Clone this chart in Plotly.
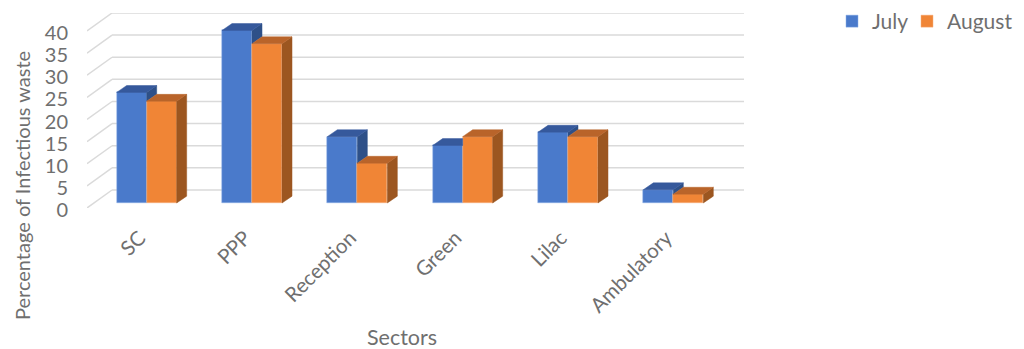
import plotly.graph_objects as go

# Infectious waste share per hospital sector, two months
sectors = ["SC", "PPP", "Reception", "Green", "Lilac", "Ambulatory"]
july = [25, 39, 15, 13, 16, 3]
august = [23, 36, 9, 15, 15, 2]
y_ticks = [0, 5, 10, 15, 20, 25, 30, 35, 40]

# Pseudo-3D projection, in axis units
WALL_DX, WALL_DY = 0.2375, 4.07    # full floor depth
BAR_DX, BAR_DY = 0.095, 1.55       # depth of one column
BAR_SHIFT_X, BAR_SHIFT_Y = 0.0665, 1.13  # columns sit a little inside the floor
BAR_W = 0.2848

GRID = "#DADADA"
TEXT = "#6F6F6F"
FONT = "Lato"
BLUE = {"front": "#4A7ACB", "side": "#2E5088", "top": "#36599C"}
ORANGE = {"front": "#F08536", "side": "#9C5620", "top": "#B9642A"}

WIDTH, HEIGHT = 1024, 349
M_L, M_R, M_T, M_B = 87, 280, 13, 141


def paper_x(px):
    return (px - M_L) / (WIDTH - M_L - M_R)


def paper_y(py):
    return (HEIGHT - M_B - py) / (HEIGHT - M_T - M_B)


def polygon(xs, ys, color):
    return go.Scatter(
        x=xs + xs[:1], y=ys + ys[:1], mode="lines", fill="toself",
        fillcolor=color, line=dict(color=color, width=0.5),
        hoverinfo="skip", showlegend=False,
    )


fig = go.Figure()

# Front faces
for name, values, colors, start, legend, edge in (
    ("July", july, BLUE, -BAR_W, "legend", "#8FB0E6"),
    ("August", august, ORANGE, 0.0, "legend2", "#F6B183"),
):
    fig.add_trace(go.Bar(
        name=name,
        x=[i + BAR_SHIFT_X for i in range(len(sectors))],
        y=values,
        base=[BAR_SHIFT_Y] * len(values),
        width=BAR_W,
        offset=start,
        legend=legend,
        showlegend=True,
        marker=dict(color=colors["front"], line=dict(color=edge, width=0.5)),
    ))

# Side and top faces, computed from the same values
for i, (j, a) in enumerate(zip(july, august)):
    mid = i + BAR_SHIFT_X
    left, right = mid - BAR_W, mid + BAR_W
    j_top, a_top = j + BAR_SHIFT_Y, a + BAR_SHIFT_Y

    # July: only the part rising above the neighbouring column shows
    if j > a:
        fig.add_trace(polygon(
            [mid, mid + BAR_DX, mid + BAR_DX, mid],
            [a_top, a_top + BAR_DY, j_top + BAR_DY, j_top],
            BLUE["side"],
        ))
        fig.add_trace(polygon(
            [left, mid, mid + BAR_DX, left + BAR_DX],
            [j_top, j_top, j_top + BAR_DY, j_top + BAR_DY],
            BLUE["top"],
        ))
    else:
        fig.add_trace(polygon(
            [left, mid, mid, left + BAR_DX],
            [j_top, j_top, j_top + BAR_DY, j_top + BAR_DY],
            BLUE["top"],
        ))

    # August
    fig.add_trace(polygon(
        [right, right + BAR_DX, right + BAR_DX, right],
        [BAR_SHIFT_Y, BAR_SHIFT_Y + BAR_DY, a_top + BAR_DY, a_top],
        ORANGE["side"],
    ))
    fig.add_trace(polygon(
        [mid, right, right + BAR_DX, mid + BAR_DX],
        [a_top, a_top, a_top + BAR_DY, a_top + BAR_DY],
        ORANGE["top"],
    ))

# Back wall gridlines and side wall diagonals
x_lo, x_hi = -0.5, 5.5
shapes = []
for v in y_ticks:
    shapes.append(dict(type="line", xref="x", yref="y", layer="below",
                       x0=x_lo + WALL_DX, x1=x_hi + WALL_DX,
                       y0=v + WALL_DY, y1=v + WALL_DY,
                       line=dict(color=GRID, width=1.5)))
    shapes.append(dict(type="line", xref="x", yref="y", layer="below",
                       x0=x_lo, x1=x_lo + WALL_DX,
                       y0=v, y1=v + WALL_DY,
                       line=dict(color=GRID, width=1.5)))

legend_common = dict(
    orientation="v", yanchor="top", xanchor="left", xref="paper", yref="paper",
    y=paper_y(1), font=dict(size=21, family=FONT, color=TEXT),
    bgcolor="rgba(0,0,0,0)", itemwidth=30,
)

fig.update_layout(
    width=WIDTH, height=HEIGHT, autosize=False,
    margin=dict(l=M_L, r=M_R, t=M_T, b=M_B, autoexpand=False),
    paper_bgcolor="white", plot_bgcolor="white",
    font=dict(family=FONT, color=TEXT),
    shapes=shapes,
    bargap=0, hovermode=False,
    xaxis=dict(
        range=[x_lo, x_hi + WALL_DX],
        tickmode="array", tickvals=list(range(len(sectors))), ticktext=sectors,
        tickangle=-45, tickfont=dict(size=20.5, family=FONT, color=TEXT),
        ticklabelstandoff=13, showgrid=False, zeroline=False, showline=False,
        ticks="", automargin=False,
    ),
    yaxis=dict(
        range=[0, 44.07],
        tickmode="array", tickvals=y_ticks,
        tickfont=dict(size=20, family=FONT, color=TEXT),
        ticklabelstandoff=18, ticklabelshift=2,
        showgrid=False, zeroline=False, showline=False,
        ticks="", automargin=False,
    ),
    legend=dict(legend_common, x=paper_x(832)),
    legend2=dict(legend_common, x=paper_x(907)),
    annotations=[
        dict(text="Sectors", xref="paper", yref="paper",
             x=paper_x(402), y=paper_y(337), showarrow=False,
             xanchor="center", yanchor="middle",
             font=dict(size=21.5, family=FONT, color=TEXT)),
        dict(text="Percentage of Infectious waste", xref="paper", yref="paper",
             x=paper_x(22), y=paper_y(186), showarrow=False, textangle=-90,
             xanchor="center", yanchor="middle",
             font=dict(size=20, family=FONT, color=TEXT)),
    ],
)

fig.write_html("out.html")
